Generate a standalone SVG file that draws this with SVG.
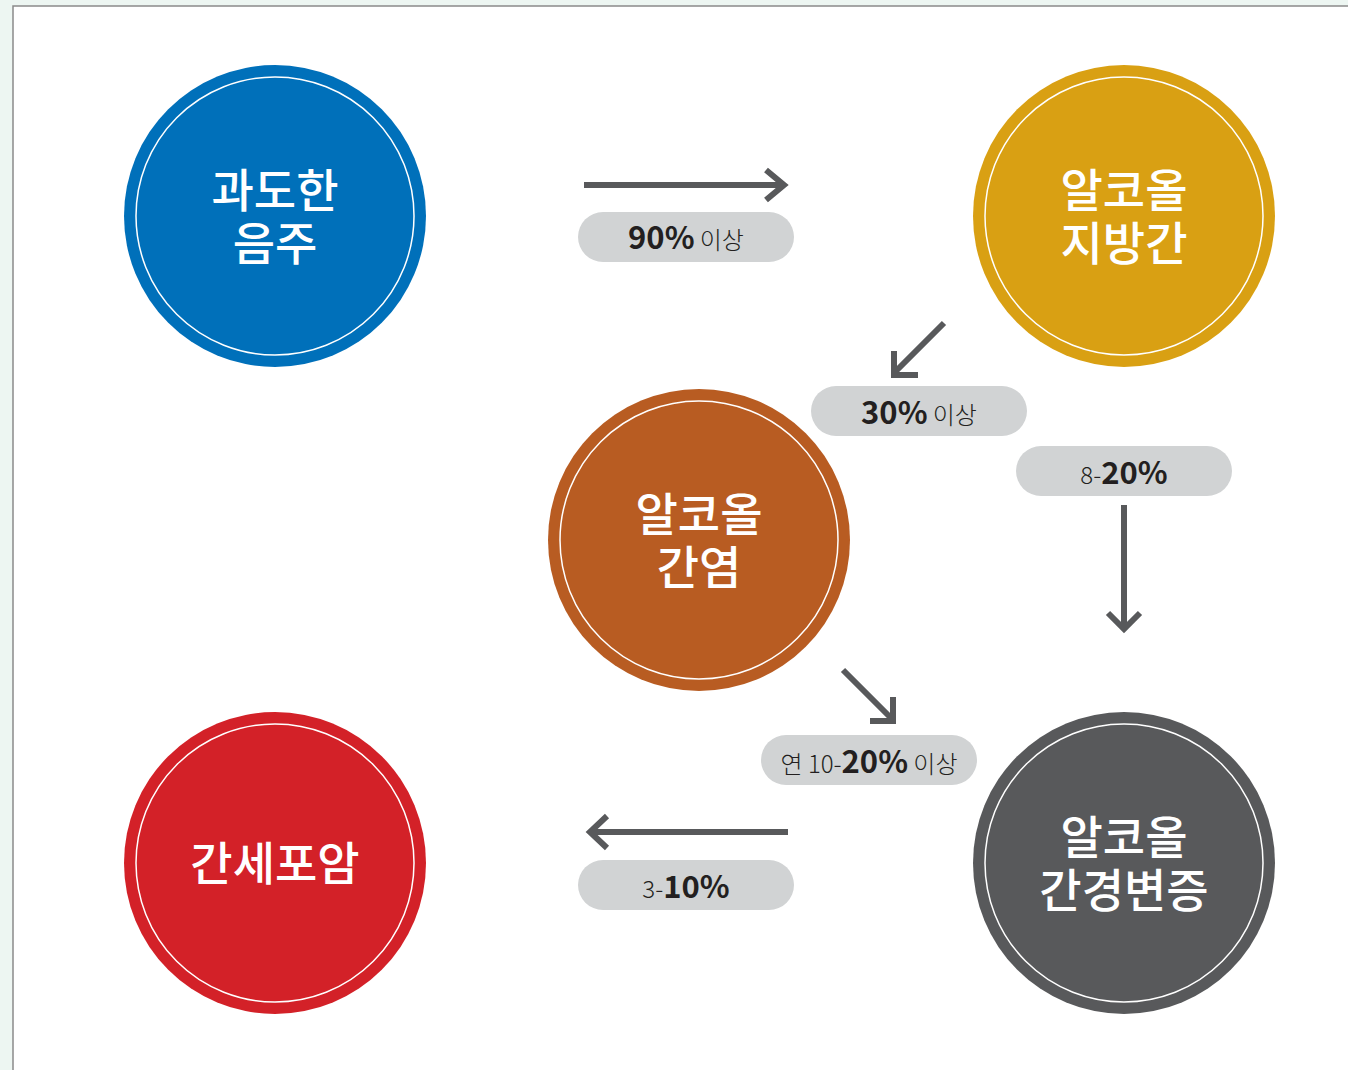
<svg xmlns="http://www.w3.org/2000/svg" width="1348" height="1070" viewBox="0 0 1348 1070">
<style>
.ring{stroke:#fff;stroke-width:1.5;fill:none}
.lbl{font-family:"Noto Sans CJK KR","Noto Sans",sans-serif;font-size:46px;font-weight:500;fill:#fff;text-anchor:middle}
.pill{fill:#d1d3d4}
.pt{font-family:"Noto Sans CJK KR","Noto Sans",sans-serif;font-size:24px;font-weight:300;fill:#231f20;text-anchor:middle}
.b{font-size:31px;font-weight:700}
.arr{stroke:#58595b;stroke-width:6;fill:none}
</style>
<rect width="1348" height="1070" fill="#edf6f2"/>
<rect x="13" y="6" width="1340" height="1070" fill="#fff" stroke="#8a8a8a" stroke-width="1.5"/>
<g id="n1"><circle cx="275" cy="216" r="151" fill="#0070ba"/><circle class="ring" cx="275" cy="216" r="139"/><text class="lbl" x="275" y="207">과도한</text><text class="lbl" x="275" y="260">음주</text></g>
<g id="n2"><circle cx="1124" cy="216" r="151" fill="#d9a013"/><circle class="ring" cx="1124" cy="216" r="139"/><text class="lbl" x="1124" y="207">알코올</text><text class="lbl" x="1124" y="260">지방간</text></g>
<g id="n3"><circle cx="699" cy="540" r="151" fill="#b85c22"/><circle class="ring" cx="699" cy="540" r="139"/><text class="lbl" x="699" y="531">알코올</text><text class="lbl" x="699" y="584">간염</text></g>
<g id="n4"><circle cx="275" cy="863" r="151" fill="#d32128"/><circle class="ring" cx="275" cy="863" r="139"/><text class="lbl" x="275" y="880">간세포암</text></g>
<g id="n5"><circle cx="1124" cy="863" r="151" fill="#58595b"/><circle class="ring" cx="1124" cy="863" r="139"/><text class="lbl" x="1124" y="854">알코올</text><text class="lbl" x="1124" y="907">간경변증</text></g>
<g id="connectors">
<path class="arr" d="M584 185H784M766 170L784 185L766 200"/>
<path class="arr" d="M944 323L894 373M894 351V375H918"/>
<path class="arr" d="M1124 505V629M1108 613L1124 629L1140 613"/>
<path class="arr" d="M843 670L892 719M893 697V721H870"/>
<path class="arr" d="M788 832H590M607 816L590 832L607 848"/>
</g>
<g id="labels">
<rect class="pill" x="578" y="212" width="216" height="50" rx="25"/>
<text class="pt" x="686" y="249"><tspan class="b">90%</tspan> 이상</text>
<rect class="pill" x="811" y="386" width="216" height="50" rx="25"/>
<text class="pt" x="919" y="424"><tspan class="b">30%</tspan> 이상</text>
<rect class="pill" x="1016" y="446" width="216" height="50" rx="25"/>
<text class="pt" x="1124" y="484">8-<tspan class="b">20%</tspan></text>
<rect class="pill" x="761" y="735" width="216" height="50" rx="25"/>
<text class="pt" x="869" y="773">연 10-<tspan class="b">20%</tspan> 이상</text>
<rect class="pill" x="578" y="860" width="216" height="50" rx="25"/>
<text class="pt" x="686" y="898">3-<tspan class="b">10%</tspan></text>
</g>
</svg>
